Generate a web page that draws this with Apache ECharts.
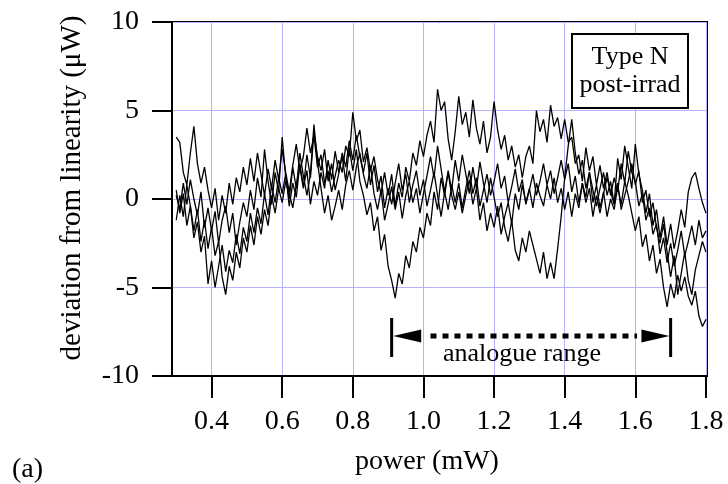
<!DOCTYPE html>
<html>
<head>
<meta charset="utf-8">
<script src="https://cdn.jsdelivr.net/npm/echarts@6.0.0/dist/echarts.min.js"></script>
<style>
  html, body { margin: 0; padding: 0; background: #fff; }
  #chart { width: 728px; height: 484px; }
</style>
</head>
<body>
<div id="chart"></div>
<script>
// power axis samples (mW)
const power = [
  0.30, 0.31, 0.32, 0.33, 0.34, 0.35, 0.36, 0.37, 0.38, 0.39,
  0.40, 0.41, 0.42, 0.43, 0.44, 0.45, 0.46, 0.47, 0.48, 0.49,
  0.50, 0.51, 0.52, 0.53, 0.54, 0.55, 0.56, 0.57, 0.58, 0.59,
  0.60, 0.61, 0.62, 0.63, 0.64, 0.65, 0.66, 0.67, 0.68, 0.69,
  0.70, 0.71, 0.72, 0.73, 0.74, 0.75, 0.76, 0.77, 0.78, 0.79,
  0.80, 0.81, 0.82, 0.83, 0.84, 0.85, 0.86, 0.87, 0.88, 0.89,
  0.90, 0.91, 0.92, 0.93, 0.94, 0.95, 0.96, 0.97, 0.98, 0.99,
  1.00, 1.01, 1.02, 1.03, 1.04, 1.05, 1.06, 1.07, 1.08, 1.09,
  1.10, 1.11, 1.12, 1.13, 1.14, 1.15, 1.16, 1.17, 1.18, 1.19,
  1.20, 1.21, 1.22, 1.23, 1.24, 1.25, 1.26, 1.27, 1.28, 1.29,
  1.30, 1.31, 1.32, 1.33, 1.34, 1.35, 1.36, 1.37, 1.38, 1.39,
  1.40, 1.41, 1.42, 1.43, 1.44, 1.45, 1.46, 1.47, 1.48, 1.49,
  1.50, 1.51, 1.52, 1.53, 1.54, 1.55, 1.56, 1.57, 1.58, 1.59,
  1.60, 1.61, 1.62, 1.63, 1.64, 1.65, 1.66, 1.67, 1.68, 1.69,
  1.70, 1.71, 1.72, 1.73, 1.74, 1.75, 1.76, 1.77, 1.78, 1.79,
  1.80
];

// deviation from linearity (uW), four scans
const scanA = [
  3.5, 3.2, 1.5, 0.8, 2.6, 4.1, 2.0, 0.9, 1.8, 0.5,
  -0.5, 0.6, -1.2, 0.2, -0.8, 0.9, -0.3, 1.2, 0.4, 1.8,
  0.8, 2.3, 1.0, 2.6, 1.4, 0.2, 1.7, 0.6, 2.2, 1.1,
  2.8, 1.5, 0.4, 1.9, 3.1, 1.6, 2.4, 4.0, 2.6, 3.6,
  1.8, 2.5, 0.9, 1.6, 0.4, 1.3, 2.2, 1.5, 3.0, 2.4,
  4.9, 3.3, 3.9, 2.1, 2.9, 1.6, 2.4, 1.1, 0.3, 1.5,
  0.2, 1.4, -0.4, 0.9, 0.1, 1.8, 1.0, 2.6, 1.9, 3.3,
  2.4, 3.6, 4.4, 3.2, 6.2, 5.0, 5.5, 3.4, 2.2, 3.8,
  5.8, 4.2, 4.9, 3.5, 5.6, 4.0, 3.1, 4.4, 2.6, 3.5,
  5.5, 3.9, 2.8, 3.6, 2.2, 3.0, 1.8, 2.5, 1.2, 2.4,
  3.0, 2.0, 5.0, 3.8, 4.5, 3.2, 5.3, 4.1, 4.6, 3.4,
  4.5, 3.2, 3.5, 2.0, 2.5, 1.0, 2.9, 1.6, 2.4, 0.8,
  1.9, 0.6, 1.5, 0.2, 1.2, 0.4, 2.0, 0.9, 2.7, 1.5,
  1.0, -0.4, 0.3, -1.2, -0.5, -2.0, -1.4, -3.1, -2.2, -3.6,
  -2.5, -3.8, -2.9, -1.8, -3.2, -2.4, -1.5, -2.6, -1.2, -2.2,
  -1.8
];
const scanB = [
  0.5, -0.8, 0.3, -1.5, -0.4, -2.2, -1.3, -3.0, -2.1, -4.8,
  -3.5, -5.0, -3.8, -2.6, -4.1, -2.9, -3.6, -2.0, -3.1, -1.6,
  -2.4, -0.8, -1.9, -0.5, -1.4, 0.3, -0.9, 0.8, -0.2, 1.2,
  0.3, 1.4, -0.4, 0.9, 0.1, 2.0, 0.7, 1.6, -0.3, 1.0,
  0.2, 1.5, 0.6, 2.2, 1.1, 2.7, 1.5, 2.4, 1.0, 2.9,
  1.6, 2.8, 1.0, 0.2, -0.9, -0.2, -1.8, -1.0, -2.9, -2.0,
  -3.8, -4.6, -5.6, -4.2, -4.8, -3.2, -3.9, -2.4, -3.0, -1.6,
  -2.2, -0.8, -1.5, 0.4, -0.6, 1.2, 0.2, 1.6, 0.5, 2.2,
  1.0, 2.5, 1.4, 0.3, 1.8, 0.6, 2.1, 0.9, -0.2, 1.2,
  0.1, -1.0, -0.2, -1.6, -2.4, -1.2, -2.9, -3.5, -2.2, -3.0,
  -1.8, -2.6, -3.4, -4.2, -3.0, -4.5, -3.6, -4.5, -2.8, -1.0,
  1.2, 3.0, 4.5, 2.6, 1.4, 2.2, 0.6, 1.5, -0.2, 0.8,
  -0.5, 0.4, -1.0, 0.0, -0.6, 0.7, -0.3, 1.0, 0.2, -0.8,
  -1.8, -1.0, -2.7, -2.0, -3.5, -2.6, -4.2, -3.4, -5.0, -6.1,
  -4.8, -5.6, -4.3, -5.2, -4.4, -5.5, -6.0, -5.2, -6.6, -7.2,
  -6.8
];
const scanC = [
  -1.2, 0.2, -1.0, 0.8, -0.4, -1.8, -0.6, -2.4, -1.2, -2.8,
  -1.6, -3.2, -2.4, -4.4, -5.4, -3.8, -4.6, -3.0, -3.9, -2.2,
  -3.0, -1.5, -2.6, -1.0, -2.0, -0.6, -1.5, 0.2, -0.8, 0.6,
  -0.2, 1.0, 0.3, -0.5, 0.8, 1.8, 0.6, 2.5, 1.2, 3.8,
  2.4, 1.6, 2.8, 1.0, 2.0, 0.5, 1.4, 2.6, 1.8, 3.3,
  2.2, 3.6, 2.4, 1.5, 2.6, 0.8, 1.9, 0.4, 1.3, -0.5,
  0.6, -0.3, 0.9, 2.0, 0.5, 1.4, -0.2, 0.8, 1.6, 0.2,
  1.1, -0.4, 0.5, 1.5, 0.2, -1.0, 0.4, -0.6, 0.8, -0.2,
  0.9, -0.5, 0.6, 1.6, 0.3, 1.2, -0.4, 0.5, 1.4, 0.2,
  1.0, 2.0, 0.6, 1.3, -0.2, 0.7, 1.7, 0.4, 1.1, -0.3,
  0.5, 1.4, 0.2, 1.0, 2.0, 0.8, 1.6, 0.3, 1.2, 2.2,
  1.1, 2.0, 0.4, 1.3, -0.2, 0.9, 0.1, 1.5, 0.5, -0.4,
  0.6, 1.5, 0.2, 1.0, -0.3, 2.3, 1.1, 3.0, 1.8, 0.6,
  3.1, 1.4, 0.5, -0.8, 0.3, -1.5, -0.6, -2.2, -1.0, -2.6,
  -1.4, -2.8, -1.8, -0.6, -1.6, 0.4, 1.2, 1.5, 0.6, -0.2,
  -0.8
];
const scanD = [
  0.2, -0.6, 0.9, -0.3, 1.1, 0.0, -0.9, 0.4, -1.6, -0.5,
  -1.8, -0.7, -2.5, -1.2, -0.4, -1.9, -0.8, -2.6, -1.3, -0.2,
  -1.0, 0.5, -0.6, 1.2, 0.1, 2.8, 1.0, -0.3, 1.5, 0.4,
  3.5, 1.2, 0.0, 1.8, 0.6, 2.6, 1.3, 0.2, 1.4, 4.2,
  2.1, 0.6, -0.8, 0.2, -1.2, -0.4, 0.5, -0.6, 0.8, 1.6,
  0.5, 1.8, 2.6, 1.4, 0.6, 1.9, 0.3, -0.6, 0.5, -1.2,
  -0.3, 0.7, -0.6, 0.4, -1.1, 0.2, 1.0, -0.2, 0.6, -0.8,
  0.3, 1.3, 2.4, 1.2, 3.0, 1.7, 0.4, 1.5, 0.2, -0.6,
  0.4, -0.8, 0.2, 1.1, -0.3, 0.6, -1.2, -0.2, -1.8, -0.8,
  -1.6, -0.4, -2.0, -1.0, -0.2, -1.4, 0.3, -0.6, 0.8, -0.2,
  0.6, -0.5, 0.9, 0.2, -0.4, 0.8, 0.0, 1.2, -0.2, 0.6,
  -0.6, 0.4, -1.0, 0.3, -0.5, 0.9, -0.2, 0.6, -1.0, 0.2,
  -0.8, 0.3, 1.2, 0.4, -0.3, 0.9, -0.6, 0.2, 1.0, 2.0,
  0.8, 1.6, -0.2, 0.5, -1.0, -0.2, -1.6, -2.5, -1.4, -3.0,
  -4.4, -3.2, -5.4, -4.2, -3.0, -4.6, -5.4, -4.0, -3.2, -2.4,
  -3.0
];

const xTicks = [0.4, 0.6, 0.8, 1.0, 1.2, 1.4, 1.6, 1.8];

// "analogue range" marker
const rangeEnds = [0.91, 1.70];
const rangeBar = [-6.72, -8.93];
const rangeY = -7.74;
const rangeDots = [1.02, 1.605];
const arrowHeads = [0.954, 1.657];

const font = '"Liberation Serif", "DejaVu Serif", serif';
const gridBlue = '#b4b4ff';

const chart = echarts.init(document.getElementById('chart'));

const scanSeries = [scanA, scanB, scanC, scanD].map(s => ({
  type: 'line',
  data: power.map((p, i) => [p, s[i]]),
  showSymbol: false,
  symbol: 'none',
  lineStyle: { color: '#000', width: 1.3 },
  silent: true
}));

const option = {
  animation: false,
  // the grid border gives the top and right frame lines
  grid: {
    left: 172, top: 22, width: 535, height: 354,
    show: true, borderColor: '#000', borderWidth: 2, backgroundColor: 'transparent'
  },
  xAxis: {
    type: 'value',
    min: 0.288,
    max: 1.803,
    axisLine: { show: true, onZero: false, lineStyle: { color: '#000', width: 2 } },
    axisTick: { show: true, customValues: xTicks, length: 22, lineStyle: { color: '#000', width: 2 } },
    axisLabel: {
      customValues: xTicks,
      formatter: v => v.toFixed(1),
      color: '#000', fontFamily: font, fontSize: 28, margin: 32
    },
    splitLine: { show: true, lineStyle: { color: gridBlue, width: 1 } }
  },
  yAxis: {
    type: 'value',
    min: -10,
    max: 10,
    interval: 5,
    axisLine: { show: true, onZero: false, lineStyle: { color: '#000', width: 2 } },
    axisTick: { show: true, length: 20, lineStyle: { color: '#000', width: 2 } },
    axisLabel: { color: '#000', fontFamily: font, fontSize: 28, margin: 33 },
    splitLine: { show: true, lineStyle: { color: gridBlue, width: 1 } }
  },
  series: [
    ...scanSeries,
    {
      type: 'line',
      data: [[rangeEnds[0], rangeBar[0]], [rangeEnds[0], rangeBar[1]]],
      symbol: 'none',
      lineStyle: { color: '#000', width: 3 }
    },
    {
      type: 'line',
      data: [[rangeEnds[1], rangeBar[0]], [rangeEnds[1], rangeBar[1]]],
      symbol: 'none',
      lineStyle: { color: '#000', width: 3 }
    },
    {
      type: 'line',
      data: [[rangeDots[0], rangeY], [rangeDots[1], rangeY]],
      symbol: 'none',
      lineStyle: { color: '#000', width: 5, type: [6, 6], cap: 'butt' }
    },
    {
      type: 'scatter',
      data: [
        { value: [arrowHeads[0], rangeY], symbolRotate: 90 },
        { value: [arrowHeads[1], rangeY], symbolRotate: -90 }
      ],
      symbol: 'triangle',
      symbolSize: [13, 28],
      itemStyle: { color: '#000', opacity: 1 }
    }
  ],
  graphic: [
    {
      type: 'rect',
      shape: { x: 572, y: 34, width: 116, height: 74 },
      style: { fill: '#fff', stroke: '#000', lineWidth: 2 },
      z: 100
    },
    {
      type: 'text', x: 630, y: 57, z: 101,
      style: { text: 'Type N', fill: '#000', font: '26px ' + font, align: 'center', verticalAlign: 'middle' }
    },
    {
      type: 'text', x: 630, y: 85, z: 101,
      style: { text: 'post-irrad', fill: '#000', font: '26px ' + font, align: 'center', verticalAlign: 'middle' }
    },
    {
      type: 'text', x: 522, y: 354, z: 101,
      style: { text: 'analogue range', fill: '#000', font: '26px ' + font, align: 'center', verticalAlign: 'middle' }
    },
    {
      type: 'text', x: 72, y: 188, rotation: Math.PI / 2,
      style: { text: 'deviation from linearity (μW)', fill: '#000', font: '29px ' + font, align: 'center', verticalAlign: 'middle' }
    },
    {
      type: 'text', x: 427, y: 462,
      style: { text: 'power (mW)', fill: '#000', font: '28px ' + font, align: 'center', verticalAlign: 'middle' }
    },
    {
      type: 'text', x: 12, y: 470,
      style: { text: '(a)', fill: '#000', font: '28px ' + font, align: 'left', verticalAlign: 'middle' }
    }
  ]
};

chart.setOption(option);
</script>
</body>
</html>
